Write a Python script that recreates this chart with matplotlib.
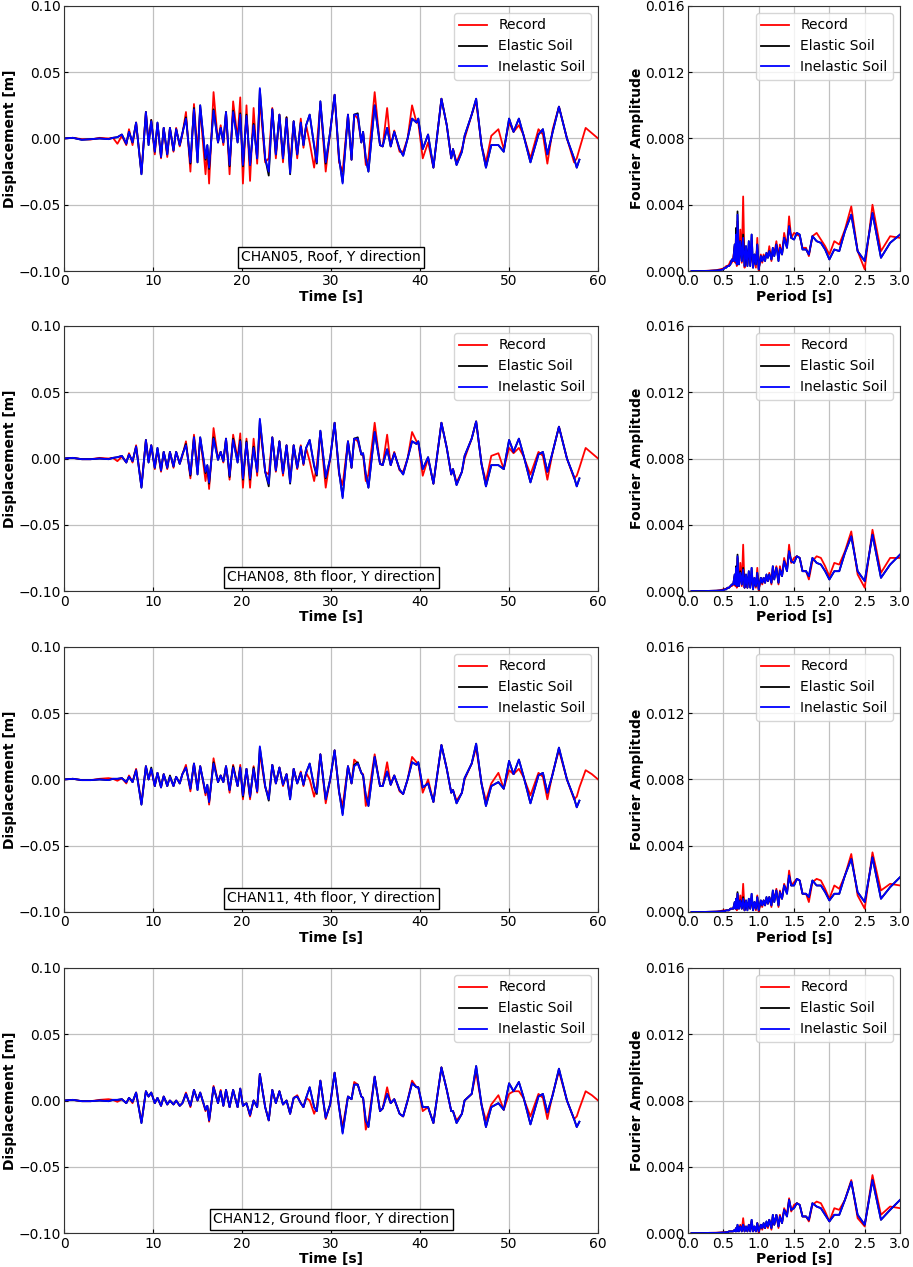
import numpy as np
import matplotlib.pyplot as plt

# time grid [s] shared by all displacement histories (models stop at 57.9 s)
t = [0.0, 1.0, 2.0, 3.0, 4.0, 5.0, 5.5, 6.0, 6.5, 7.0,
     7.3, 7.7, 8.1, 8.7, 9.2, 9.5, 9.8, 10.2, 10.5, 10.9,
     11.2, 11.6, 11.9, 12.3, 12.6, 13.0, 13.3, 13.7, 14.2, 14.6,
     15.0, 15.3, 15.9, 16.1, 16.3, 16.8, 17.3, 17.6, 17.9, 18.2,
     18.6, 19.0, 19.5, 19.8, 20.1, 20.5, 20.9, 21.3, 21.7, 22.0,
     22.6, 23.0, 23.4, 23.8, 24.2, 24.6, 25.0, 25.4, 25.8, 26.2,
     26.6, 26.9, 27.2, 27.6, 28.1, 28.4, 28.8, 29.4, 29.9, 30.4,
     30.9, 31.3, 31.9, 32.3, 32.6, 33.0, 33.4, 33.6, 33.9, 34.2,
     34.9, 35.5, 35.8, 36.3, 36.7, 37.1, 37.7, 38.1, 38.6, 39.1,
     39.6, 39.8, 40.3, 40.9, 41.5, 42.4, 43.0, 43.5, 43.7, 44.1,
     44.7, 45.0, 45.8, 46.3, 46.9, 47.4, 48.0, 48.8, 49.4, 50.0,
     50.5, 51.1, 51.6, 52.4, 53.3, 53.8, 54.3, 54.9, 55.6, 56.5,
     57.3, 57.6, 57.9, 58.6, 59.3, 60.0]

# displacements in mm
rec_05 = [0, 0.5, -0.5, -0.8, 0.5, 0, 0.5, -4, 2, -5,
          7, -5, 12, -26, 20, -3, 14, -12, 11, -15,
          8, -14, 8, -10, 8, -6, 3, 20, -25, 26,
          -10, 22, -27, -8, -34, 35, -3, 10, -5, 20,
          -27, 28, 0, 31, -34, 25, -32, 23, -19, 30,
          -18, -15, 23, -15, 18, -18, 16, -20, 13, -15,
          15, -7, 10, -3, -22, -5, 26, -25, 5, 33,
          -18, -25, 18, -16, 18, 15, -3, 5, -20, -15,
          35, -5, -6, 23, -6, 6, -10, -10, 0, 25,
          12, 12, -15, -3, -22, 30, 10, -15, -8, -18,
          -8, 0, 18, 28, -5, -18, 2, 7, -8, 12,
          5, 10, 3, -15, 7, 3, -19, 7, 24, 0,
          -18, -15, -8, 8, 4, 0]
ela_05 = [0, 0.5, -1, -0.5, 0, -0.5, 0.5, 1, 3, -4,
          5, -3, 12, -27, 20, -5, 14, -10, 12, -14,
          8, -12, 8, -9, 7, -5, 4, 16, -19, 23,
          -18, 25, -16, -5, -23, 22, -3, 8, -3, 20,
          -21, 21, -3, 19, -21, 18, -20, 11, -15, 37,
          -15, -28, 22, -12, 18, -15, 16, -27, 13, -12,
          12, -5, 10, 18, -6, -19, 28, -19, 5, 33,
          -15, -33, 18, -16, 18, 19, -3, 5, -15, -25,
          25, -5, -6, 8, -6, 5, -8, -13, 0, 15,
          12, 15, -8, 3, -22, 30, 10, -15, -8, -20,
          -10, 2, 18, 30, -5, -22, -5, -5, -10, 15,
          5, 15, 3, -18, 3, 7, -12, 5, 24, 0,
          -15, -22, -16]
ine_05 = [0, 0.5, -1, -0.5, 0, -0.5, 0.5, 1, 3, -4,
          5, -3, 12, -27, 20, -5, 13, -10, 12, -14,
          8, -12, 8, -9, 7, -5, 4, 15, -18, 22,
          -18, 25, -15, -5, -22, 21, -3, 8, -3, 20,
          -20, 20, -3, 18, -20, 17, -20, 10, -15, 38,
          -15, -25, 22, -12, 18, -15, 15, -26, 13, -12,
          12, -5, 10, 18, -5, -18, 28, -18, 5, 33,
          -15, -34, 18, -16, 18, 18, -3, 5, -15, -25,
          25, -5, -6, 8, -6, 5, -8, -13, 0, 15,
          12, 15, -8, 3, -22, 30, 10, -15, -8, -20,
          -10, 2, 18, 30, -5, -22, -5, -5, -10, 15,
          5, 15, 3, -18, 3, 7, -12, 5, 24, 0,
          -15, -22, -16]

rec_08 = [0, 0.5, -0.5, -0.5, 0.5, 0, 0.5, -2, 1.5, -3,
          4, -3, 10, -21, 14, -2, 10, -8, 7, -10,
          5, -8, 5, -7, 5, -4, 2, 13, -15, 18,
          -7, 15, -17, -6, -23, 23, 0, 5, -3, 15,
          -16, 18, 0, 19, -22, 15, -22, 15, -13, 24,
          -10, -12, 16, -10, 13, -13, 10, -15, 10, -8,
          10, -5, 8, -2, -17, -5, 20, -22, 0, 27,
          -12, -20, 13, -7, 15, 13, 3, 3, -17, -12,
          27, -4, -5, 18, -5, 5, -9, -10, 0, 20,
          13, 12, -13, 0, -19, 27, 8, -12, -8, -18,
          -10, 0, 15, 28, -4, -17, 2, 4, -8, 8,
          4, 8, 2, -12, 5, 2, -16, 5, 24, 0,
          -15, -13, -7, 8, 4, 0]
ela_08 = [0, 0.5, -0.5, -0.5, 0, -0.5, 0.5, 1, 2, -3,
          3, -2, 9, -22, 14, -3, 10, -7, 8, -9,
          5, -7, 5, -6, 5, -4, 3, 11, -13, 16,
          -12, 16, -11, -5, -19, 16, -1, 5, -2, 15,
          -14, 15, -3, 14, -16, 13, -16, 9, -10, 29,
          -10, -21, 16, -9, 13, -11, 10, -19, 10, -7,
          9, -4, 8, 14, -6, -13, 21, -15, 0, 27,
          -10, -29, 13, -7, 15, 16, 3, 4, -12, -22,
          20, -4, -5, 7, -5, 4, -8, -12, 0, 13,
          11, 13, -8, 1, -19, 27, 8, -12, -8, -20,
          -10, 2, 15, 28, -4, -21, -5, -5, -8, 14,
          5, 15, 3, -18, 3, 5, -10, 5, 24, 0,
          -14, -21, -15]
ine_08 = [0, 0.5, -0.5, -0.5, 0, -0.5, 0.5, 1, 2, -3,
          3, -2, 9, -22, 14, -3, 10, -7, 8, -9,
          5, -7, 5, -6, 5, -4, 3, 10, -12, 16,
          -12, 16, -10, -5, -18, 15, -1, 5, -2, 15,
          -13, 14, -3, 13, -15, 12, -15, 8, -10, 30,
          -10, -19, 16, -9, 13, -11, 10, -18, 10, -7,
          9, -4, 8, 14, -5, -12, 21, -14, 0, 27,
          -10, -30, 13, -7, 15, 15, 3, 4, -12, -22,
          20, -4, -5, 7, -5, 4, -8, -12, 0, 13,
          11, 13, -8, 1, -19, 27, 8, -12, -8, -20,
          -10, 2, 15, 28, -4, -21, -5, -5, -8, 14,
          5, 15, 3, -18, 3, 5, -10, 5, 24, 0,
          -14, -21, -15]

rec_11 = [0, 0.5, -0.5, -0.5, 0.5, 1, 0.5, -1, 1, -3,
          3, -2, 8, -18, 10, 0, 7, -5, 5, -6,
          4, -5, 2, -5, 2, -3, 4, 11, -9, 12,
          -6, 10, -12, -5, -19, 16, -2, 3, -2, 10,
          -10, 11, -5, 11, -15, 8, -15, 10, -10, 20,
          -6, -13, 11, -3, 9, -5, 4, -13, 8, -3,
          6, -5, 5, 0, -13, -5, 19, -18, 0, 22,
          -10, -20, 10, -3, 15, 12, 5, 4, -20, -12,
          19, -5, -5, 13, -4, 3, -9, -11, 0, 17,
          13, 12, -10, 0, -17, 26, 8, -10, -8, -16,
          -10, 0, 12, 24, -3, -16, -3, 5, -7, 7,
          4, 8, 2, -12, 5, 2, -15, 5, 22, 0,
          -15, -13, -6, 7, 4, 0]
ela_11 = [0, 0.5, -0.5, -0.5, 0, -0.5, 0.5, 0.5, 1, -2,
          2, -2, 7, -19, 10, 0, 9, -5, 5, -6,
          4, -5, 3, -5, 2, -3, 4, 9, -7, 12,
          -8, 10, -10, -4, -17, 13, -2, 3, -2, 10,
          -8, 10, -5, 9, -13, 8, -13, 9, -9, 24,
          -5, -16, 11, -3, 9, -4, 4, -15, 8, -3,
          5, -4, 5, 12, -6, -11, 19, -15, 0, 22,
          -9, -26, 10, -3, 11, 13, 5, 3, -12, -20,
          17, -5, -5, 6, -4, 3, -8, -11, 0, 13,
          11, 13, -6, -3, -17, 26, 8, -10, -8, -18,
          -10, 1, 12, 27, -3, -20, -5, -2, -7, 14,
          4, 15, 3, -18, 3, 5, -10, 4, 24, 0,
          -14, -21, -16]
ine_11 = [0, 0.5, -0.5, -0.5, 0, -0.5, 0.5, 0.5, 1, -2,
          2, -2, 7, -19, 10, 0, 8, -5, 5, -6,
          4, -5, 2, -5, 2, -3, 4, 9, -7, 12,
          -8, 10, -10, -4, -17, 12, -2, 3, -2, 10,
          -8, 9, -5, 9, -12, 8, -13, 8, -9, 25,
          -5, -15, 11, -3, 9, -4, 4, -15, 8, -3,
          5, -4, 5, 12, -5, -10, 19, -15, 0, 22,
          -9, -27, 10, -3, 10, 12, 5, 3, -12, -20,
          17, -5, -5, 6, -4, 3, -8, -11, 0, 13,
          11, 13, -6, -3, -17, 26, 8, -10, -8, -18,
          -10, 1, 12, 27, -3, -20, -5, -2, -7, 14,
          4, 15, 3, -18, 3, 5, -10, 4, 24, 0,
          -14, -21, -16]

rec_12 = [0, 0.5, -0.5, -0.5, 0.5, 1, 0.5, -1, 1, -2,
          2, -2, 6, -16, 7, 3, 6, -2, 2, -4,
          3, -3, 0, -3, 0, -4, -2, 6, -5, 8,
          0, 6, -8, -4, -16, 11, -2, 8, -4, 8,
          -5, 8, -5, 9, -4, -2, -12, 0, -5, 20,
          -5, -15, 8, -2, 7, -3, 0, -10, 2, 4,
          -2, -5, 2, 0, -10, -5, 15, -14, -3, 21,
          -5, -20, 3, 1, 14, 12, 3, 2, -22, -15,
          18, -8, -6, 10, -2, 1, -10, -12, 0, 15,
          10, 10, -8, -5, -17, 25, 8, -8, -8, -15,
          -10, 0, 5, 21, -3, -15, -3, 4, -7, 5,
          7, 7, 2, -12, 5, 2, -14, 5, 22, 0,
          -14, -12, -6, 7, 4, 0]
ela_12 = [0, 0.5, -0.5, -0.5, 0, -0.5, 0.5, 0.5, 1, -2,
          2, -1, 6, -17, 7, 3, 6, -2, 2, -4,
          3, -3, 0, -3, 0, -4, -2, 5, -4, 8,
          0, 6, -7, -4, -15, 10, -2, 7, -4, 8,
          -5, 8, -5, 9, -4, -2, -11, 0, -5, 20,
          -5, -15, 8, -2, 7, -3, 0, -10, 2, 3,
          -2, -5, 2, 10, -5, -8, 15, -13, -3, 21,
          -5, -24, 3, 1, 12, 12, 3, 2, -15, -20,
          18, -8, -6, 5, -2, 1, -10, -12, 0, 13,
          10, 10, -5, -5, -17, 25, 8, -8, -8, -17,
          -10, 0, 5, 26, -3, -20, -5, -2, -7, 13,
          7, 14, 3, -18, 3, 5, -9, 4, 24, 0,
          -14, -20, -16]
ine_12 = [0, 0.5, -0.5, -0.5, 0, -0.5, 0.5, 0.5, 1, -2,
          2, -1, 6, -17, 7, 3, 6, -2, 2, -4,
          3, -3, 0, -3, 0, -4, -2, 5, -4, 8,
          0, 6, -7, -4, -15, 10, -2, 7, -4, 8,
          -5, 8, -5, 9, -4, -2, -11, 0, -5, 20,
          -5, -15, 8, -2, 7, -3, 0, -10, 2, 3,
          -2, -5, 2, 10, -5, -8, 15, -13, -3, 21,
          -5, -25, 3, 1, 12, 12, 3, 2, -15, -20,
          18, -8, -6, 5, -2, 1, -10, -12, 0, 13,
          10, 10, -5, -5, -17, 25, 8, -8, -8, -17,
          -10, 0, 5, 26, -3, -20, -5, -2, -7, 13,
          7, 14, 3, -18, 3, 5, -9, 4, 24, 0,
          -14, -20, -16]

# period grid [s] of the Fourier spectra
period = [3.0, 2.86, 2.73, 2.61, 2.5, 2.4, 2.31, 2.22, 2.14, 2.07,
          2.0, 1.94, 1.88, 1.82, 1.76, 1.71, 1.67, 1.62, 1.58, 1.54,
          1.5, 1.46, 1.43, 1.4, 1.36, 1.33, 1.3, 1.28, 1.25, 1.22,
          1.2, 1.18, 1.15, 1.13, 1.11, 1.09, 1.07, 1.05, 1.03, 1.0,
          0.98, 0.96, 0.94, 0.92, 0.9, 0.88, 0.86, 0.84, 0.82, 0.8,
          0.78, 0.76, 0.74, 0.72, 0.7, 0.69, 0.68, 0.67, 0.66, 0.64,
          0.62, 0.6, 0.58, 0.56, 0.54, 0.52, 0.5, 0.45, 0.4, 0.3, 0.2, 0.1, 0.05]

# Fourier amplitudes x 1e-3
frec_05 = [2.0, 2.1, 1.2, 4.0, 0.1, 1.2, 3.9, 2.5, 1.6, 1.8,
           1.0, 1.5, 1.9, 2.3, 2.1, 0.9, 1.4, 1.4, 2.1, 2.2,
           2.3, 2.0, 3.3, 1.5, 2.3, 1.0, 1.6, 0.8, 1.8, 1.0,
           1.3, 0.6, 1.5, 0.9, 1.0, 0.7, 1.0, 0.5, 1.0, 0.0,
           2.0, 0.2, 0.8, 0.3, 1.2, 0.5, 1.4, 0.4, 1.3, 0.2,
           4.5, 0.5, 2.5, 0.5, 3.0, 0.3, 2.5, 0.5, 1.5, 0.8,
           0.5, 0.6, 0.4, 0.3, 0.3, 0.2, 0.15, 0.1, 0.05, 0.02, 0.0, 0.0, 0.0]
fela_05 = [2.2, 1.7, 0.8, 3.5, 0.6, 1.2, 3.4, 2.4, 1.2, 1.3,
           0.7, 1.3, 1.7, 1.8, 2.1, 1.0, 1.3, 1.3, 2.2, 2.3,
           1.9, 2.0, 2.7, 1.4, 2.0, 1.0, 1.4, 0.6, 1.6, 0.9,
           1.4, 0.7, 1.2, 0.8, 1.1, 0.6, 0.9, 0.6, 0.9, 0.1,
           1.6, 0.4, 1.0, 0.2, 2.2, 0.3, 1.8, 0.3, 1.5, 0.3,
           2.2, 0.6, 1.8, 0.4, 3.6, 0.4, 2.6, 0.6, 1.6, 0.6,
           0.7, 0.4, 0.3, 0.3, 0.2, 0.2, 0.1, 0.05, 0.03, 0.01, 0.0, 0.0, 0.0]
fine_05 = [2.2, 1.7, 0.8, 3.5, 0.6, 1.2, 3.4, 2.4, 1.2, 1.3,
           0.7, 1.3, 1.7, 1.8, 2.1, 1.0, 1.3, 1.3, 2.2, 2.3,
           1.9, 2.0, 2.7, 1.4, 2.0, 1.0, 1.4, 0.6, 1.6, 0.9,
           1.4, 0.7, 1.2, 0.8, 1.1, 0.6, 0.9, 0.6, 0.9, 0.1,
           1.6, 0.4, 1.0, 0.2, 2.2, 0.3, 1.8, 0.3, 1.5, 0.3,
           2.0, 0.6, 1.8, 0.4, 3.4, 0.4, 2.2, 0.6, 1.6, 0.6,
           0.7, 0.4, 0.3, 0.3, 0.2, 0.2, 0.1, 0.05, 0.03, 0.01, 0.0, 0.0, 0.0]

frec_08 = [2.0, 2.0, 1.1, 3.7, 0.2, 1.0, 3.6, 2.4, 1.6, 1.7,
           0.9, 1.5, 2.0, 2.1, 1.8, 0.7, 1.2, 1.2, 2.0, 2.1,
           2.0, 1.7, 2.8, 1.3, 2.0, 0.9, 1.5, 0.4, 1.5, 0.8,
           1.4, 0.4, 1.1, 0.6, 0.9, 0.5, 0.8, 0.4, 0.8, 0.0,
           1.4, 0.2, 0.6, 0.2, 0.9, 0.3, 1.0, 0.2, 0.8, 0.2,
           2.8, 0.3, 1.7, 0.3, 2.0, 0.2, 1.3, 0.3, 0.9, 0.4,
           0.3, 0.3, 0.2, 0.2, 0.15, 0.1, 0.1, 0.05, 0.02, 0.01, 0.0, 0.0, 0.0]
fela_08 = [2.2, 1.6, 0.8, 3.4, 0.6, 1.2, 3.3, 2.3, 1.2, 1.2,
           0.7, 1.2, 1.6, 1.7, 2.0, 0.9, 1.2, 1.2, 2.0, 2.1,
           1.7, 1.8, 2.4, 1.2, 1.8, 0.9, 1.3, 0.5, 1.4, 0.7,
           1.5, 0.5, 1.0, 0.6, 1.0, 0.5, 0.8, 0.5, 0.8, 0.1,
           1.1, 0.3, 0.8, 0.1, 1.4, 0.2, 1.2, 0.2, 1.0, 0.2,
           1.4, 0.4, 1.2, 0.3, 2.2, 0.3, 1.5, 0.4, 1.0, 0.4,
           0.4, 0.3, 0.2, 0.2, 0.1, 0.1, 0.05, 0.03, 0.02, 0.01, 0.0, 0.0, 0.0]
fine_08 = [2.2, 1.6, 0.8, 3.4, 0.6, 1.2, 3.3, 2.3, 1.2, 1.2,
           0.7, 1.2, 1.6, 1.7, 2.0, 0.9, 1.2, 1.2, 2.0, 2.1,
           1.7, 1.8, 2.4, 1.2, 1.8, 0.9, 1.3, 0.5, 1.4, 0.7,
           1.5, 0.5, 1.0, 0.6, 1.0, 0.5, 0.8, 0.5, 0.8, 0.1,
           1.1, 0.3, 0.8, 0.1, 1.4, 0.2, 1.2, 0.2, 1.0, 0.2,
           1.3, 0.4, 1.1, 0.3, 2.1, 0.3, 1.4, 0.4, 1.0, 0.4,
           0.4, 0.3, 0.2, 0.2, 0.1, 0.1, 0.05, 0.03, 0.02, 0.01, 0.0, 0.0, 0.0]

frec_11 = [1.6, 1.7, 1.3, 3.6, 0.2, 1.0, 3.5, 2.2, 1.4, 1.6,
           0.8, 1.4, 1.9, 2.0, 1.8, 0.6, 1.1, 1.1, 1.9, 2.0,
           1.8, 1.6, 2.5, 1.2, 1.7, 0.8, 1.3, 0.3, 1.4, 0.7,
           1.2, 0.3, 0.9, 0.5, 0.8, 0.4, 0.7, 0.3, 0.6, 0.0,
           1.0, 0.1, 0.5, 0.2, 0.8, 0.2, 0.6, 0.2, 0.5, 0.1,
           1.7, 0.2, 1.0, 0.2, 1.1, 0.1, 0.8, 0.2, 0.5, 0.2,
           0.2, 0.2, 0.1, 0.1, 0.1, 0.1, 0.1, 0.05, 0.02, 0.01, 0.0, 0.0, 0.0]
fela_11 = [2.1, 1.5, 0.8, 3.3, 0.6, 1.2, 3.2, 2.2, 1.1, 1.1,
           0.7, 1.2, 1.6, 1.6, 1.9, 0.9, 1.1, 1.1, 1.9, 2.0,
           1.6, 1.6, 2.2, 1.1, 1.6, 0.8, 1.2, 0.4, 1.3, 0.6,
           1.3, 0.4, 0.9, 0.5, 0.9, 0.4, 0.7, 0.4, 0.7, 0.1,
           0.9, 0.2, 0.6, 0.1, 1.1, 0.2, 0.8, 0.1, 0.7, 0.1,
           0.9, 0.2, 0.7, 0.2, 1.2, 0.2, 0.8, 0.2, 0.6, 0.2,
           0.2, 0.2, 0.1, 0.1, 0.1, 0.05, 0.05, 0.03, 0.02, 0.01, 0.0, 0.0, 0.0]
fine_11 = [2.1, 1.5, 0.8, 3.3, 0.6, 1.2, 3.2, 2.2, 1.1, 1.1,
           0.7, 1.2, 1.6, 1.6, 1.9, 0.9, 1.1, 1.1, 1.9, 2.0,
           1.6, 1.6, 2.2, 1.1, 1.6, 0.8, 1.2, 0.4, 1.3, 0.6,
           1.3, 0.4, 0.9, 0.5, 0.9, 0.4, 0.7, 0.4, 0.7, 0.1,
           0.9, 0.2, 0.6, 0.1, 1.1, 0.2, 0.8, 0.1, 0.7, 0.1,
           0.8, 0.2, 0.7, 0.2, 1.1, 0.2, 0.8, 0.2, 0.6, 0.2,
           0.2, 0.2, 0.1, 0.1, 0.1, 0.05, 0.05, 0.03, 0.02, 0.01, 0.0, 0.0, 0.0]

frec_12 = [1.5, 1.6, 1.1, 3.5, 0.4, 0.9, 3.2, 2.0, 1.4, 1.5,
           0.7, 1.3, 1.8, 1.9, 1.7, 0.7, 1.0, 1.0, 1.7, 1.8,
           1.7, 1.3, 2.1, 1.1, 1.5, 0.6, 1.1, 0.3, 1.1, 0.5,
           1.0, 0.2, 0.8, 0.3, 0.6, 0.3, 0.5, 0.2, 0.5, 0.0,
           0.6, 0.1, 0.3, 0.1, 0.7, 0.1, 0.5, 0.1, 0.3, 0.1,
           0.9, 0.1, 0.5, 0.1, 0.4, 0.1, 0.3, 0.1, 0.2, 0.1,
           0.1, 0.1, 0.1, 0.05, 0.05, 0.05, 0.05, 0.03, 0.02, 0.01, 0.0, 0.0, 0.0]
fela_12 = [2.0, 1.4, 0.8, 3.2, 0.5, 1.1, 3.1, 2.0, 1.1, 1.1,
           0.7, 1.1, 1.5, 1.6, 1.8, 0.8, 1.0, 1.0, 1.7, 1.8,
           1.5, 1.4, 2.0, 1.0, 1.4, 0.6, 1.0, 0.4, 1.1, 0.5,
           1.1, 0.3, 0.8, 0.4, 0.7, 0.3, 0.6, 0.3, 0.5, 0.1,
           0.6, 0.1, 0.4, 0.1, 0.8, 0.1, 0.5, 0.1, 0.4, 0.1,
           0.5, 0.1, 0.4, 0.1, 0.5, 0.1, 0.3, 0.1, 0.2, 0.1,
           0.1, 0.1, 0.1, 0.05, 0.05, 0.03, 0.03, 0.02, 0.01, 0.01, 0.0, 0.0, 0.0]
fine_12 = [2.0, 1.4, 0.8, 3.2, 0.5, 1.1, 3.1, 2.0, 1.1, 1.1,
           0.7, 1.1, 1.5, 1.6, 1.8, 0.8, 1.0, 1.0, 1.7, 1.8,
           1.5, 1.4, 2.0, 1.0, 1.4, 0.6, 1.0, 0.4, 1.1, 0.5,
           1.1, 0.3, 0.8, 0.4, 0.7, 0.3, 0.6, 0.3, 0.5, 0.1,
           0.6, 0.1, 0.4, 0.1, 0.8, 0.1, 0.5, 0.1, 0.4, 0.1,
           0.5, 0.1, 0.4, 0.1, 0.5, 0.1, 0.3, 0.1, 0.2, 0.1,
           0.1, 0.1, 0.1, 0.05, 0.05, 0.03, 0.03, 0.02, 0.01, 0.01, 0.0, 0.0, 0.0]

labels = ['CHAN05, Roof, Y direction', 'CHAN08, 8th floor, Y direction',
          'CHAN11, 4th floor, Y direction', 'CHAN12, Ground floor, Y direction']
disp = [(rec_05, ela_05, ine_05), (rec_08, ela_08, ine_08),
        (rec_11, ela_11, ine_11), (rec_12, ela_12, ine_12)]
four = [(frec_05, fela_05, fine_05), (frec_08, fela_08, fine_08),
        (frec_11, fela_11, fine_11), (frec_12, fela_12, fine_12)]
names = ['Record', 'Elastic Soil', 'Inelastic Soil']
colors = ['red', 'black', 'blue']

plt.rcParams['font.size'] = 10
fig = plt.figure(figsize=(9.13, 12.67), dpi=100)
bottoms = [0.7861, 0.5335, 0.2802, 0.0268]


def style(ax):
    ax.grid(True, color='#c0c0c0', linewidth=0.9)
    ax.set_axisbelow(True)
    ax.tick_params(direction='in', labelsize=10, length=3, pad=2.5)
    for s in ax.spines.values():
        s.set_color('#333333')
    ax.legend(loc='upper right', fontsize=10, fancybox=True, edgecolor='#cccccc')


for i in range(4):
    b = bottoms[i]
    ax = fig.add_axes([0.0701, b, 0.585, 0.2092])
    for k in range(3):
        y = np.array(disp[i][k]) / 1000.0
        ax.plot(t[:len(y)], y, color=colors[k], lw=1.3, label=names[k])
    ax.set_xlim(0, 60)
    ax.set_ylim(-0.1, 0.1)
    ax.set_xticks([0, 10, 20, 30, 40, 50, 60])
    ax.set_yticks([-0.1, -0.05, 0.0, 0.05, 0.1])
    ax.set_xlabel('Time [s]', fontweight='bold', labelpad=1)
    ax.set_ylabel('Displacement [m]', fontweight='bold', labelpad=1)
    ax.text(30, -0.0895, labels[i], ha='center', va='center',
            bbox=dict(boxstyle='square,pad=0.25', facecolor='white', edgecolor='black'))
    style(ax)

    ax2 = fig.add_axes([0.7536, b, 0.2322, 0.2092])
    for k in range(3):
        a = np.array(four[i][k]) / 1000.0
        ax2.plot(period, a, color=colors[k], lw=1.3, label=names[k])
    ax2.set_xlim(0, 3)
    ax2.set_ylim(0, 0.016)
    ax2.set_xticks([0, 0.5, 1.0, 1.5, 2.0, 2.5, 3.0])
    ax2.set_yticks([0, 0.004, 0.008, 0.012, 0.016])
    ax2.set_xlabel('Period [s]', fontweight='bold', labelpad=1)
    ax2.set_ylabel('Fourier Amplitude', fontweight='bold', labelpad=1)
    style(ax2)

fig.savefig('out.png', dpi=100)
